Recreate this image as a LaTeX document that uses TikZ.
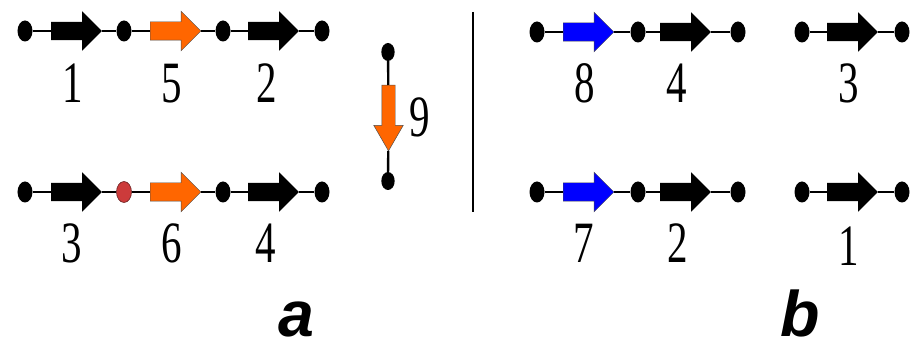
\documentclass[tikz,border=0pt]{standalone}
\usepackage{fontspec}
\usepackage{xcolor}
\usetikzlibrary{shapes.geometric, shapes.arrows, positioning}
\newfontfamily\numfont[FakeStretch=0.7]{Liberation Serif}
\newfontfamily\painelfont{Liberation Sans}
\definecolor{laranja}{RGB}{255, 102, 0}
\definecolor{azul}{RGB}{0, 0, 255}
\definecolor{vermelho}{RGB}{204, 59, 59}
\tikzset{
  ponto/.style={
    ellipse, fill=black, inner sep=0pt,
    minimum width=0.45cm, minimum height=0.63cm
  },
  pontoV/.style={ponto, fill=vermelho, draw=vermelho!50!black, line width=0.5pt},
  gene/.style={
    single arrow, anchor=tail, fill=black, inner xsep=0pt, inner ysep=0.27cm,
    minimum height=1.52cm,
    single arrow head extend=0.315cm, single arrow tip angle=90
  },
  geneL/.style={gene, fill=laranja, draw=black!70, line width=0.4pt},
  geneA/.style={gene, fill=azul, draw=black!70, line width=0.4pt},
  fio/.style={line width=2pt},
  numero/.style={font=\numfont\fontsize{50}{50}\selectfont, anchor=base, inner sep=0pt},
  painel/.style={font=\painelfont\bfseries\itshape\fontsize{55}{55}\selectfont,
    anchor=base, inner sep=0pt, text depth=0pt},
}

\begin{document}
\begin{tikzpicture}[x=0.03cm, y=-0.03cm]
\useasboundingbox (0,0) rectangle (910,341);

% --- a: linha de cima
\node[ponto] (a1) at (25,31) {};
\node[ponto] (a2) at (124,31) {};
\node[ponto] (a3) at (223,31) {};
\node[ponto] (a4) at (322,31) {};
\node[gene]  (g1) at (51,31) {};
\node[geneL] (g5) at (150,31) {};
\node[gene]  (g2) at (248,31) {};
\draw[fio] (a1) -- (g1) -- (a2) -- (g5) -- (a3) -- (g2) -- (a4);

% --- a: linha de baixo
\node[ponto]  (b1) at (25,192) {};
\node[pontoV] (b2) at (124,192) {};
\node[ponto]  (b3) at (223,192) {};
\node[ponto]  (b4) at (322,192) {};
\node[gene]  (g3) at (51,192) {};
\node[geneL] (g6) at (150,192) {};
\node[gene]  (g4) at (248,192) {};
\draw[fio] (b1) -- (g3) -- (b2) -- (g6) -- (b3) -- (g4) -- (b4);

% --- a: gene vertical
\node[ponto, minimum width=0.4cm, minimum height=0.54cm] (v1) at (388,52) {};
\node[ponto, minimum width=0.4cm, minimum height=0.54cm] (v2) at (388,181) {};
\node[geneL, rotate=-90, minimum height=1.97cm, inner ysep=0.195cm,
      single arrow head extend=0.24cm, single arrow tip angle=60] (g9) at (388.5,85) {};
\draw[fio] (v1) -- (g9) -- (v2);

\node[numero] (n1) at (73,103) {1};
\node[numero] (n5) at (172,103) {5};
\node[numero] (n2) at (267,103) {2};
\node[numero] (n3) at (72,263) {3};
\node[numero] (n6) at (172,263) {6};
\node[numero] (n4) at (266,263) {4};
\node[numero] (n9) at (420,137) {9};

% --- separador
\coordinate (sepTopo) at (473,12);
\coordinate (sepBase) at (473,212);
\draw[line width=2.1pt] (sepTopo) -- (sepBase);

% --- b: linha de cima
\node[ponto] (c1) at (537,32) {};
\node[ponto] (c2) at (638,32) {};
\node[ponto] (c3) at (738,32) {};
\node[ponto] (c4) at (802,32) {};
\node[ponto] (c5) at (902,32) {};
\node[geneA] (h8) at (563,32) {};
\node[gene]  (h4) at (660,32) {};
\node[gene]  (h3) at (827,32) {};
\draw[fio] (c1) -- (h8) -- (c2) -- (h4) -- (c3);
\draw[fio] (c4) -- (h3) -- (c5);

% --- b: linha de baixo
\node[ponto] (d1) at (537,192) {};
\node[ponto] (d2) at (638,192) {};
\node[ponto] (d3) at (738,192) {};
\node[ponto] (d4) at (802,192) {};
\node[ponto] (d5) at (902,192) {};
\node[geneA] (h7) at (563,192) {};
\node[gene]  (h2) at (660,192) {};
\node[gene]  (h1) at (827,192) {};
\draw[fio] (d1) -- (h7) -- (d2) -- (h2) -- (d3);
\draw[fio] (d4) -- (h1) -- (d5);

\node[numero] (m8) at (585,103) {8};
\node[numero] (m4) at (677,103) {4};
\node[numero] (m3) at (849,103) {3};
\node[numero] (m7) at (584,263) {7};
\node[numero] (m2) at (678,263) {2};
\node[numero] (m1) at (849,266) {1};

% --- rotulos dos paineis
\node[painel] (pa) at (296,336) {a};
\node[painel] (pb) at (800,336) {b};

\end{tikzpicture}
\end{document}
